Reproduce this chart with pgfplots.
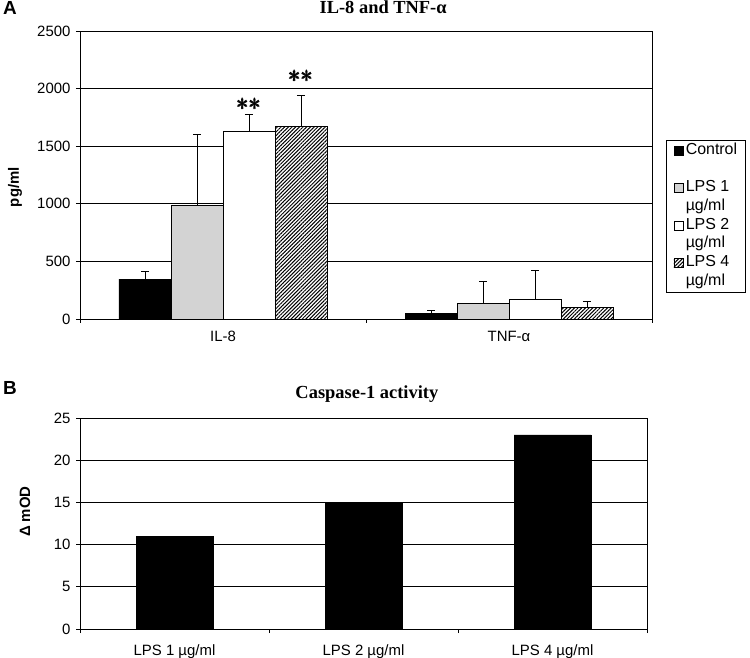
\documentclass[border=0pt]{standalone}
\usepackage{amsmath}
\usepackage{fontspec}
\setmainfont{Liberation Sans}
\newfontfamily\timesfont{Liberation Serif}
\usepackage{pgfplots}
\pgfplotsset{compat=1.18}
\usetikzlibrary{patterns.meta}
\definecolor{lgray}{RGB}{211,211,211}

\pgfplotsset{
  common/.style={
    scale only axis,
    anchor=south west,
    axis line style={black, line width=0.8bp},
    ymajorgrids,
    grid style={black, line width=0.8bp},
    tick align=outside,
    major tick length=4bp,
    tick style={black, line width=0.8bp},
    xtick pos=bottom, ytick pos=left,
    /pgf/number format/assume math mode=true,
    /pgf/number format/1000 sep={},
    ticklabel style={font=\fontsize{15}{17}\selectfont},
    yticklabel style={xshift=-2bp},
    xticklabels={},
    ylabel style={font=\bfseries\fontsize{15}{17}\selectfont},
    title style={font=\timesfont\bfseries\fontsize{18.5}{21}\selectfont, anchor=base, inner sep=0pt},
  }
}

\begin{document}
\begin{tikzpicture}
\useasboundingbox (0,0) rectangle (750bp,658bp);

\node[anchor=base west, font=\bfseries\fontsize{19}{21}\selectfont, inner sep=0pt] at (3bp,643bp) {A};
\node[anchor=base west, font=\bfseries\fontsize{19}{21}\selectfont, inner sep=0pt] at (3bp,263bp) {B};

% Panel A
\begin{axis}[common,
  at={(80bp,339bp)},
  width=572bp, height=288bp,
  xmin=-0.5, xmax=1.5, ymin=0, ymax=2500,
  ytick={0,500,1000,1500,2000,2500},
  xtick={-0.5,0.5,1.5},
  extra x ticks={0,1},
  extra x tick labels={IL-8,TNF-α},
  extra x tick style={major tick length=0pt, xticklabel style={yshift=-9bp}},
  ylabel={pg/ml},
  ylabel style={at={(axis description cs:-0.1136,0.458)}, anchor=center},
  title={IL-8 and TNF-α},
  title style={at={(axis description cs:0.53,1)}, yshift=12bp},
  legend image code/.code={\draw[#1, draw=black, line width=0.7bp] (6.5bp,-4.5bp) rectangle (15.5bp,4.5bp);},
  legend style={at={(axis description cs:1.0245,0.6215)}, anchor=north west,
    draw=black, line width=0.8bp, inner sep=1bp,
    font=\fontsize{16}{18}\selectfont,
    nodes={inner sep=1.5bp, text height=11.5bp, text depth=4.2bp},
    cells={anchor=west}, row sep=0pt, column sep=1bp},
]
\addplot[ybar, bar width=52bp, bar shift=-78bp, fill=black, draw=black, line width=0.8bp]
  coordinates {(0,347) (1,46)};
\addlegendentry{Control\hspace*{6bp}}
\addlegendimage{empty legend}\addlegendentry{\strut}
\addplot[ybar, bar width=52bp, bar shift=-26bp, fill=lgray, draw=black, line width=0.8bp]
  coordinates {(0,983) (1,136)};
\addlegendentry{LPS 1}
\addlegendimage{empty legend}\addlegendentry{µg/ml}
\addplot[ybar, bar width=52bp, bar shift=26bp, fill=white, draw=black, line width=0.8bp]
  coordinates {(0,1632) (1,174)};
\addlegendentry{LPS 2}
\addlegendimage{empty legend}\addlegendentry{µg/ml}
\addplot[ybar, bar width=52bp, bar shift=78bp, fill=white, draw=black, line width=0.8bp,
  postaction={pattern={Lines[angle=45, distance=2.6bp, line width=1bp]}}]
  coordinates {(0,1670) (1,101)};
\addlegendentry{LPS 4}
\addlegendimage{empty legend}\addlegendentry{µg/ml}
% upper error bars at the bar centres
\addplot[forget plot, draw=none, mark=none, error bars/.cd, y dir=plus, y explicit,
  error bar style={draw=black, line width=0.8bp}, error mark options={draw=black, line width=0.8bp, mark size=4bp, rotate=90}]
  coordinates {(-0.2727,347) +- (0,70) (0.7273,46) +- (0,32)};
\addplot[forget plot, draw=none, mark=none, error bars/.cd, y dir=plus, y explicit,
  error bar style={draw=black, line width=0.8bp}, error mark options={draw=black, line width=0.8bp, mark size=4bp, rotate=90}]
  coordinates {(-0.0909,983) +- (0,620) (0.9091,136) +- (0,188)};
\addplot[forget plot, draw=none, mark=none, error bars/.cd, y dir=plus, y explicit,
  error bar style={draw=black, line width=0.8bp}, error mark options={draw=black, line width=0.8bp, mark size=4bp, rotate=90}]
  coordinates {(0.0909,1632) +- (0,148) (1.0909,174) +- (0,246)};
\addplot[forget plot, draw=none, mark=none, error bars/.cd, y dir=plus, y explicit,
  error bar style={draw=black, line width=0.8bp}, error mark options={draw=black, line width=0.8bp, mark size=4bp, rotate=90}]
  coordinates {(0.2727,1670) +- (0,274) (1.2727,101) +- (0,55)};
\node[font=\fontsize{34}{34}\selectfont] at (axis cs:0.0909,1866) {$\pmb{\ast}\pmb{\ast}$};
\node[font=\fontsize{34}{34}\selectfont] at (axis cs:0.2727,2109) {$\pmb{\ast}\pmb{\ast}$};
\end{axis}

% Panel B
\begin{axis}[common,
  at={(80bp,29bp)},
  width=567bp, height=211bp,
  xmin=-0.5, xmax=2.5, ymin=0, ymax=25,
  ytick={0,5,10,15,20,25},
  xtick={-0.5,0.5,1.5,2.5},
  extra x ticks={0,1,2},
  extra x tick labels={LPS 1 µg/ml,LPS 2 µg/ml,LPS 4 µg/ml},
  extra x tick style={major tick length=0pt, xticklabel style={yshift=-12bp}},
  ylabel={Δ mOD},
  ylabel style={at={(axis description cs:-0.097,0.556)}, anchor=center},
  title={Caspase-1 activity},
  title style={at={(axis description cs:0.506,1)}, yshift=14bp},
]
\addplot[ybar, bar width=77bp, fill=black, draw=black]
  coordinates {(0,11) (1,15) (2,23)};
\end{axis}
\end{tikzpicture}
\end{document}
